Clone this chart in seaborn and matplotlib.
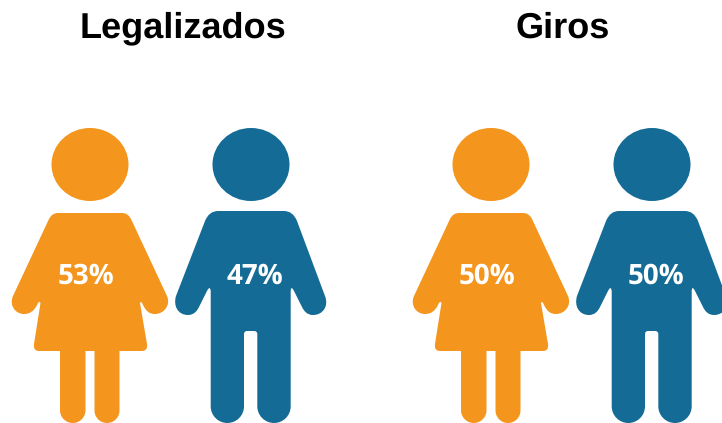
import matplotlib
matplotlib.use("Agg")
import matplotlib.pyplot as plt
import numpy as np
import pandas as pd
import seaborn as sns
from matplotlib.path import Path

# ---- data ----
groups = ["Legalizados", "Giros"]
genders = ["Mujer", "Hombre"]
women_pct = [53, 50]
men_pct = [47, 50]

# ---- style ----
colors = {"Mujer": "#F4951D", "Hombre": "#146C96"}
DPI = 100
W, H = 722, 423
sns.set_theme(style="white")
plt.rcParams["font.family"] = ["Liberation Sans", "DejaVu Sans"]
plt.rcParams["text.hinting"] = "no_hinting"


def build(segments, cx, cy):
    """Icon outline from pixel-space segments, centred on (cx, cy), y up."""
    v, c = [], []
    for seg in segments:
        op, pts = seg[0], seg[1:]
        code = {"M": [Path.MOVETO], "L": [Path.LINETO],
                "Q": [Path.CURVE3] * 2, "C": [Path.CURVE4] * 3}[op]
        v += list(pts)
        c += code
    v.append(v[0])
    c.append(Path.CLOSEPOLY)
    arr = np.array(v, float)
    arr[:, 0] -= cx
    arr[:, 1] = cy - arr[:, 1]
    return arr, c


def head(cx, cy, rx, ry):
    k = 0.5523
    return [("M", (cx + rx, cy)),
            ("C", (cx + rx, cy + k * ry), (cx + k * rx, cy + ry), (cx, cy + ry)),
            ("C", (cx - k * rx, cy + ry), (cx - rx, cy + k * ry), (cx - rx, cy)),
            ("C", (cx - rx, cy - k * ry), (cx - k * rx, cy - ry), (cx, cy - ry)),
            ("C", (cx + k * rx, cy - ry), (cx + rx, cy - k * ry), (cx + rx, cy))]


def foot(x_from, x_to, bottom=423.0):
    """Half-round leg end going from x_from to x_to."""
    r = (x_to - x_from) / 2
    mid = (x_from + x_to) / 2
    a = abs(r)
    k = 0.5523 * a
    top = bottom - a
    sign = 1 if r > 0 else -1
    return [("L", (x_from, top)),
            ("C", (x_from, top + k), (mid - sign * k, bottom), (mid, bottom)),
            ("C", (mid + sign * k, bottom), (x_to, top + k), (x_to, top))]


woman_body = [
    ("M", (58, 213)), ("L", (122, 213)), ("Q", (128, 213), (131, 219)),
    ("L", (167, 296)), ("C", (171, 305), (164, 314), (155, 314)),
    ("C", (149, 314), (146, 311), (143, 305)), ("Q", (141, 300), (140, 303)),
    ("L", (147, 344)), ("Q", (148, 351), (142, 351)), ("L", (119.5, 351)),
    *foot(119.5, 94.5),
    ("L", (94.5, 351)), ("L", (85.5, 351)),
    *foot(85.5, 60),
    ("L", (60, 351)), ("L", (39, 351)),
    ("Q", (33, 351), (34, 344)), ("L", (40.5, 303)), ("Q", (39, 300), (37, 305)),
    ("C", (34, 311), (30, 314), (24, 314)), ("C", (15, 314), (9, 305), (13, 296)),
    ("L", (49, 219)), ("Q", (52, 213), (58, 213)),
]
man_body = [
    ("M", (218, 211)), ("L", (284, 211)), ("Q", (293, 211), (297, 221)),
    ("L", (325, 296)), ("C", (329, 306), (323, 315), (313, 315)),
    ("C", (307, 315), (304, 311), (302, 307)), ("L", (294, 291)),
    ("Q", (291, 285), (290.7, 291)),
    *foot(290.7, 257.3),
    ("L", (257.3, 334)),
    ("Q", (257.3, 331), (254, 331)), ("L", (247, 331)), ("Q", (244, 331), (244, 334)),
    *foot(244, 210.7),
    ("L", (210.7, 291)), ("Q", (210, 285), (207, 291)), ("L", (199, 307)),
    ("C", (197, 311), (194, 315), (188, 315)), ("C", (178, 315), (173, 306), (176, 296)),
    ("L", (205, 221)), ("Q", (209, 211), (218, 211)),
]


def icon(body, hx, hy):
    hv, hc = build(head(hx, hy, 38.5, 36.5), hx, 275)
    bv, bc = build(body, hx, 275)
    return Path(np.vstack([hv, bv]), hc + bc)


markers = {"Mujer": icon(woman_body, 90, 164.5), "Hombre": icon(man_body, 251, 164.5)}

# ---- table built from the data ----
df = pd.DataFrame({
    "grupo": np.repeat(groups, 2),
    "genero": genders * 2,
    "pct": [v for pair in zip(women_pct, men_pct) for v in pair],
})
GROUP_STEP, GENDER_STEP, X0, Y0 = 401, 161, 90, 275
df["x"] = X0 + df["grupo"].map(groups.index) * GROUP_STEP + df["genero"].map(genders.index) * GENDER_STEP
df["y"] = Y0

fig = plt.figure(figsize=(W / DPI, H / DPI), dpi=DPI, facecolor="white")
ax = fig.add_axes([0, 0, 1, 1])

for g in genders:
    R = np.abs(markers[g].vertices).max()
    size = (2 * R * 72 / DPI) ** 2
    sns.scatterplot(data=df[df["genero"] == g], x="x", y="y", style="genero",
                    markers={g: markers[g]}, color=colors[g], s=size,
                    linewidth=0, legend=False, ax=ax)

ax.set_xlim(0, W)
ax.set_ylim(H, 0)
ax.axis("off")

text_dx = {"Mujer": -4.5, "Hombre": 3.5}
for _, r in df.iterrows():
    ax.text(r["x"] + text_dx[r["genero"]], 273, f"{r['pct']}%", color="white",
            fontsize=20, fontweight="bold", family="Open Sans",
            ha="center", va="center_baseline")

for grp, cx in zip(groups, (183, 562.5)):
    ax.text(cx, 28.5, grp, color="black", fontsize=26, fontweight="bold",
            ha="center", va="center")

fig.savefig("out.png", dpi=DPI, facecolor="white")
